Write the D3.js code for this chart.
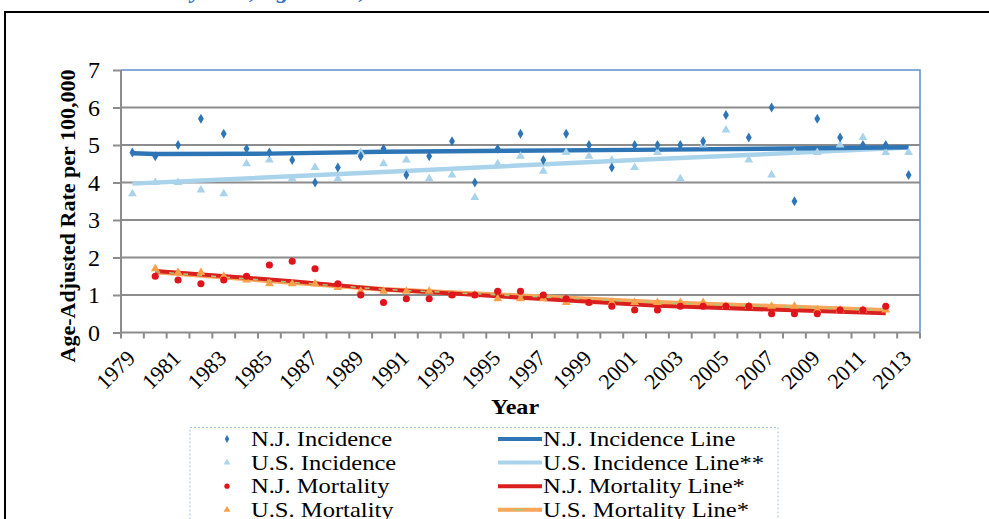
<!DOCTYPE html>
<html>
<head>
<meta charset="utf-8">
<script src="https://cdn.jsdelivr.net/npm/d3@7"></script>
<style>
  html, body { margin: 0; padding: 0; background: #fff; }
  svg { display: block; }
</style>
</head>
<body>
<figure style="margin:0"></figure>
<script>
const years = [1979, 1980, 1981, 1982, 1983, 1984, 1985, 1986, 1987, 1988, 1989,
  1990, 1991, 1992, 1993, 1994, 1995, 1996, 1997, 1998, 1999, 2000, 2001,
  2002, 2003, 2004, 2005, 2006, 2007, 2008, 2009, 2010, 2011, 2012, 2013]
const yearLabels = ['1979', '1981', '1983', '1985', '1987', '1989', '1991', '1993', '1995',
  '1997', '1999', '2001', '2003', '2005', '2007', '2009', '2011', '2013']
const yTicks = [0, 1, 2, 3, 4, 5, 6, 7]

// observed rates
const njIncidence = [4.8, 4.7, 5.0, 5.7, 5.3, 4.9, 4.8, 4.6, 4.0, 4.4, 4.7,
  4.9, 4.2, 4.7, 5.1, 4.0, 4.9, 5.3, 4.6, 5.3, 5.0, 4.4, 5.0,
  5.0, 5.0, 5.1, 5.8, 5.2, 6.0, 3.5, 5.7, 5.2, 5.0, 5.0, 4.2]
const usIncidence = [3.7, 4.0, 4.0, 3.8, 3.7, 4.5, 4.6, 4.1, 4.4, 4.1, 4.8,
  4.5, 4.6, 4.1, 4.2, 3.6, 4.5, 4.7, 4.3, 4.8, 4.7, 4.6, 4.4,
  4.8, 4.1, 5.0, 5.4, 4.6, 4.2, 4.8, 4.8, 5.0, 5.2, 4.8, 4.8]
const njMortality = [null, 1.5, 1.4, 1.3, 1.4, 1.5, 1.8, 1.9, 1.7, 1.3, 1.0,
  0.8, 0.9, 0.9, 1.0, 1.0, 1.1, 1.1, 1.0, 0.9, 0.8, 0.7, 0.6,
  0.6, 0.7, 0.7, 0.7, 0.7, 0.5, 0.5, 0.5, 0.6, 0.6, 0.7, null]
const usMortality = [null, 1.7, 1.6, 1.6, 1.5, 1.4, 1.3, 1.3, 1.3, 1.2, 1.1,
  1.1, 1.1, 1.1, 1.0, 1.0, 0.9, 0.9, 0.9, 0.8, 0.8, 0.8, 0.8,
  0.8, 0.8, 0.8, 0.7, 0.7, 0.7, 0.7, 0.6, 0.6, 0.6, 0.6, null]

// trend (joinpoint) lines at their bends
const njIncidenceLine = [[1979, 4.78], [1980, 4.76], [1985, 4.77], [1990, 4.82], [2001, 4.87], [2013, 4.94]]
const usIncidenceLine = [[1979, 3.97], [1990, 4.28], [2001, 4.60], [2013, 4.93]]
const njMortalityLine = [[1980, 1.64], [1986, 1.37], [1990, 1.15], [2002, 0.71], [2012, 0.51]]
const usMortalityLine = [[1980, 1.62], [1990, 1.15], [2002, 0.80], [2012, 0.59]]

const width = 989
const height = 519
const m = { left: 121, right: 920, top: 70, bottom: 332.5 }
const serif = '"Liberation Serif", "Times New Roman", serif'

const svg = d3.select('figure').append('svg')
  .attr('width', width)
  .attr('height', height)

svg.append('rect').attr('width', width).attr('height', height).attr('fill', '#fff')

// title, mostly cut off at the top of the picture
svg.append('text')
  .attr('x', 15)
  .attr('y', -2)
  .attr('font-family', serif)
  .attr('font-size', 24)
  .attr('font-weight', 'bold')
  .attr('font-style', 'italic')
  .attr('fill', '#3a70c0')
  .text('Incidence Rates by Year, Ages 0-19, 1979-2013')

// outer frame
svg.append('rect')
  .attr('x', 5).attr('y', 12)
  .attr('width', 1100).attr('height', 600)
  .attr('fill', 'none')
  .attr('stroke', '#000')
  .attr('stroke-width', 2)

const x = d3.scaleBand().domain(years).range([m.left, m.right])
const cx = d => x(d) + x.bandwidth() / 2
const y = d3.scaleLinear().domain([0, 7]).range([m.bottom, m.top])

// gridlines
svg.append('g')
  .selectAll('line')
  .data(yTicks.slice(1, 7))
  .join('line')
  .attr('x1', m.left).attr('x2', m.right)
  .attr('y1', d => y(d)).attr('y2', d => y(d))
  .attr('stroke', '#8c8c8c')
  .attr('stroke-width', 2)

// plot border (blue top / right)
svg.append('path')
  .attr('d', `M${m.left},${y(7)}H${m.right}V${m.bottom}`)
  .attr('fill', 'none')
  .attr('stroke', '#5b8fd0')
  .attr('stroke-width', 1.5)

// y axis
const yAxis = svg.append('g')
  .attr('transform', `translate(${m.left},0)`)
  .call(d3.axisLeft(y).tickValues(yTicks).tickSize(8).tickPadding(13).tickFormat(d3.format('d')))
yAxis.select('.domain').remove()
yAxis.selectAll('line').attr('stroke', '#8c8c8c').attr('stroke-width', 2)
yAxis.selectAll('text')
  .attr('font-family', serif)
  .attr('font-size', 24)
  .attr('fill', '#000')

// x axis
const xAxis = svg.append('g')
  .attr('transform', `translate(0,${m.bottom})`)
  .call(d3.axisBottom(x).tickValues(yearLabels.map(Number)).tickSize(0))
xAxis.select('.domain').remove()
xAxis.selectAll('text')
  .attr('x', 0).attr('y', 0).attr('dy', 0)
  .attr('text-anchor', 'end')
  .attr('transform', 'translate(4,27) rotate(-45)')
  .attr('font-family', serif)
  .attr('font-size', 22)
  .attr('fill', '#000')

svg.append('g')
  .selectAll('line')
  .data(years.map(d => x(d)).concat([m.right]))
  .join('line')
  .attr('x1', d => d).attr('x2', d => d)
  .attr('y1', m.bottom).attr('y2', m.bottom + 6)
  .attr('stroke', '#8c8c8c')
  .attr('stroke-width', 2)

svg.append('path')
  .attr('d', `M${m.left},${y(7)}V${m.bottom}H${m.right}`)
  .attr('fill', 'none')
  .attr('stroke', '#8c8c8c')
  .attr('stroke-width', 2)

// axis titles
svg.append('text')
  .attr('transform', 'translate(75,216) rotate(-90)')
  .attr('text-anchor', 'middle')
  .attr('font-family', serif)
  .attr('font-size', 22)
  .attr('font-weight', 'bold')
  .text('Age-Adjusted Rate per 100,000')

svg.append('text')
  .attr('transform', 'translate(515,414) scale(1.15,1)')
  .attr('text-anchor', 'middle')
  .attr('font-family', serif)
  .attr('font-size', 21)
  .attr('font-weight', 'bold')
  .text('Year')

// trend lines
const trend = d3.line().x(d => cx(d[0])).y(d => y(d[1]))
const lines = [
  { data: usIncidenceLine, color: '#a9d3ea', w: 4.5 },
  { data: njIncidenceLine, color: '#2e75b6', w: 4.5 },
  { data: usMortalityLine, color: '#f9a65a', w: 5 },
  { data: njMortalityLine, color: '#d9201f', w: 4 }
]
svg.append('g')
  .selectAll('path')
  .data(lines)
  .join('path')
  .attr('d', d => trend(d.data))
  .attr('fill', 'none')
  .attr('stroke', d => d.color)
  .attr('stroke-width', d => d.w)
  .attr('stroke-linejoin', 'round')

svg.append('path')
  .attr('d', trend(usMortalityLine))
  .attr('fill', 'none')
  .attr('stroke', '#a8c878')
  .attr('stroke-width', 1.5)
  .attr('stroke-dasharray', '5,9')

// markers
const series = [
  { values: usIncidence, color: '#a9d3ea', sym: d3.symbolTriangle, size: 34 },
  { values: njIncidence, color: '#2e75b6', sym: d3.symbolDiamond, size: 30 },
  { values: usMortality, color: '#f7a048', sym: d3.symbolTriangle, size: 34 },
  { values: njMortality, color: '#e0141c', sym: d3.symbolCircle, size: 40 }
]
series.forEach(s => {
  svg.append('g')
    .selectAll('path')
    .data(years.map((yr, i) => [yr, s.values[i]]).filter(d => d[1] != null))
    .join('path')
    .attr('transform', d => `translate(${cx(d[0])},${y(d[1])})`)
    .attr('d', d3.symbol(s.sym, s.size))
    .attr('fill', s.color)
})

// legend
const legend = svg.append('g')
legend.append('rect')
  .attr('x', 190).attr('y', 427.5)
  .attr('width', 588).attr('height', 120)
  .attr('fill', '#fff')
  .attr('stroke', '#9dc3e6')
  .attr('stroke-dasharray', '2,2')

const markerItems = [
  { label: 'N.J. Incidence', color: '#2e75b6', sym: d3.symbolDiamond, size: 18 },
  { label: 'U.S. Incidence', color: '#a9d3ea', sym: d3.symbolTriangle, size: 20 },
  { label: 'N.J. Mortality', color: '#e0141c', sym: d3.symbolCircle, size: 22 },
  { label: 'U.S. Mortality', color: '#f7a048', sym: d3.symbolTriangle, size: 20 }
]
const lineItems = [
  { label: 'N.J. Incidence Line', color: '#2e75b6' },
  { label: 'U.S. Incidence Line**', color: '#a9d3ea' },
  { label: 'N.J. Mortality Line*', color: '#d9201f' },
  { label: 'U.S. Mortality Line*', color: '#f9a65a' }
]
const rowY = i => 439 + i * 23.6

markerItems.forEach((d, i) => {
  legend.append('path')
    .attr('transform', `translate(227,${rowY(i)})`)
    .attr('d', d3.symbol(d.sym, d.size))
    .attr('fill', d.color)
  legend.append('text')
    .attr('transform', `translate(251,${rowY(i) + 7}) scale(1.17,1)`)
    .attr('font-family', serif)
    .attr('font-size', 21)
    .text(d.label)
})

lineItems.forEach((d, i) => {
  legend.append('line')
    .attr('x1', 498).attr('x2', 542)
    .attr('y1', rowY(i)).attr('y2', rowY(i))
    .attr('stroke', d.color)
    .attr('stroke-width', 4)
  legend.append('text')
    .attr('transform', `translate(543,${rowY(i) + 7}) scale(1.17,1)`)
    .attr('font-family', serif)
    .attr('font-size', 21)
    .text(d.label)
})
legend.append('line')
  .attr('x1', 513).attr('x2', 524)
  .attr('y1', rowY(3)).attr('y2', rowY(3))
  .attr('stroke', '#a8c878')
  .attr('stroke-width', 1.5)
</script>
</body>
</html>
